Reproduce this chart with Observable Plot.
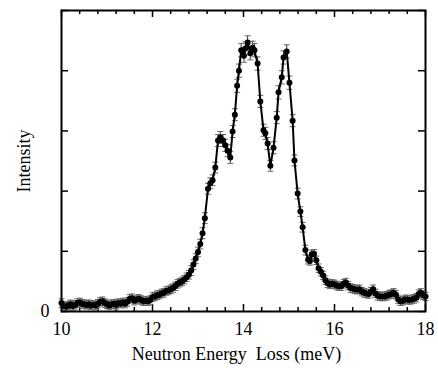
<!DOCTYPE html>
<html><head><meta charset="utf-8">
<script src="https://cdn.jsdelivr.net/npm/d3@7"></script>
<script src="https://cdn.jsdelivr.net/npm/@observablehq/plot@0.6"></script>
<style>body{margin:0;background:#fff}</style>
</head><body><div id="chart"></div>
<script>
const energy = [
  10.00,10.05,10.10,10.15,10.20,10.25,10.30,10.35,10.40,10.45,
  10.50,10.55,10.60,10.65,10.70,10.75,10.80,10.85,10.90,10.95,
  11.00,11.05,11.10,11.15,11.20,11.25,11.30,11.35,11.40,11.45,
  11.50,11.55,11.60,11.65,11.70,11.75,11.80,11.85,11.90,11.95,
  12.00,12.05,12.10,12.15,12.20,12.25,12.30,12.35,12.40,12.45,
  12.50,12.55,12.60,12.65,12.70,12.75,12.80,12.85,12.90,12.95,
  13.00,13.05,13.10,13.15,
  13.22,13.27,13.32,13.38,13.44,13.49,13.55,13.60,13.65,13.71,
  13.76,13.81,13.86,13.90,13.95,14.01,14.04,14.09,14.15,14.20,
  14.24,14.31,14.37,14.44,14.48,14.53,14.59,14.66,14.73,14.77,
  14.84,14.88,14.95,15.01,15.08,15.12,15.19,15.25,15.30,15.36,
  15.42,15.46,15.50,15.55,15.60,15.65,15.70,15.75,
  15.80,15.85,15.90,15.95,16.00,16.05,16.10,16.15,16.20,16.25,
  16.30,16.35,16.40,16.45,16.50,16.55,16.60,16.65,16.70,16.75,
  16.80,16.85,16.90,16.95,17.00,17.05,17.10,17.15,17.20,17.25,
  17.30,17.35,17.40,17.45,17.50,17.55,17.60,17.65,17.70,17.75,
  17.80,17.85,17.90,17.95,18.00
];
const intensity = [
  14,9,8,10,12,9,11,14,15,13,
  12,11,12,10,11,10,13,16,17,14,
  12,10,12,13,11,14,13,15,13,16,
  21,22,18,20,21,19,17,18,17,19,
  24,25,27,28,30,31,34,35,37,39,
  42,46,48,50,53,57,61,68,78,88,
  99,112,130,155,
  204,213,218,239,284,289,284,276,267,256,
  299,327,375,400,434,425,437,447,429,438,
  434,412,349,301,296,279,242,272,322,364,
  389,422,432,380,317,251,196,166,140,102,
  86,84,95,96,85,72,66,60,
  52,47,45,46,45,43,42,42,46,48,
  43,39,38,37,36,37,33,31,30,29,
  33,37,30,26,25,25,25,26,28,29,
  31,28,20,17,18,20,20,19,20,21,
  23,29,31,27,25
];
const errorBar = [
  7,7,7,7,7,7,7,7,7,7,
  7,7,7,7,7,7,7,7,7,7,
  7,7,7,7,7,7,7,7,7,7,
  7,7,7,7,7,7,7,7,7,7,
  7,7,7,7,7,7,7,7,7,7,
  7,7,7,7,7,7,7,8,8,8,
  8,8,9,9,
  9,9,9,9,10,10,10,10,10,10,
  10,10,11,11,11,11,11,11,11,11,
  11,11,10,10,10,10,9,10,10,11,
  11,11,11,11,10,9,9,8,8,8,
  7,7,7,7,7,7,7,7,
  7,7,7,7,7,7,7,7,7,7,
  7,7,7,7,7,7,7,7,7,7,
  7,7,7,7,7,7,7,7,7,7,
  7,7,7,7,7,7,7,7,7,7,
  7,7,7,7,7
];
const majorXTicks = [10,12,14,16,18];
const minorXTicks = [10.4,10.8,11.2,11.6,12.4,12.8,13.2,13.6,14.4,14.8,15.2,15.6,16.4,16.8,17.2,17.6];
const yTicks = [0,100,200,300,400,500];
const yTickLabelValues = [0];
const xLabel = "Neutron Energy\u00a0 Loss (meV)";
const yLabel = "Intensity";

const points = energy.map((e, i) => ({energy: e, intensity: intensity[i], err: errorBar[i]}));

const W = 438, H = 368, mL = 61, mR = 13, mT = 10, mB = 57;
const innerW = W - mL - mR, innerH = H - mT - mB;

const capSymbol = {
  draw(ctx, size) {
    const r = Math.sqrt(size / Math.PI);
    ctx.moveTo(-r, 0);
    ctx.lineTo(r, 0);
  }
};

const font = "'Liberation Serif', 'Times New Roman', serif";
const chart = Plot.plot({
  width: W, height: H,
  marginLeft: mL, marginRight: mR, marginTop: mT, marginBottom: mB,
  style: {fontFamily: font, fontSize: "17px", color: "black", background: "white"},
  x: {domain: [10, 18]},
  y: {domain: [0, 500]},
  marks: [
    Plot.tickX(majorXTicks, {x: d => d, insetTop: innerH - 7, strokeWidth: 1.5, stroke: "black"}),
    Plot.tickX(majorXTicks, {x: d => d, insetBottom: innerH - 7, strokeWidth: 1.5, stroke: "black"}),
    Plot.tickX(minorXTicks, {x: d => d, insetTop: innerH - 4, strokeWidth: 1.5, stroke: "black"}),
    Plot.tickX(minorXTicks, {x: d => d, insetBottom: innerH - 4, strokeWidth: 1.5, stroke: "black"}),
    Plot.tickY(yTicks, {y: d => d, insetRight: innerW - 7, strokeWidth: 1.5, stroke: "black"}),
    Plot.tickY(yTicks, {y: d => d, insetLeft: innerW - 7, strokeWidth: 1.5, stroke: "black"}),
    Plot.ruleX(points, {x: "energy", y1: d => d.intensity - d.err, y2: d => d.intensity + d.err, stroke: "#333", strokeWidth: 1}),
    Plot.dot(points, {x: "energy", y: d => d.intensity - d.err, symbol: capSymbol, r: 3, fill: "none", stroke: "#666", strokeWidth: 1}),
    Plot.dot(points, {x: "energy", y: d => d.intensity + d.err, symbol: capSymbol, r: 3, fill: "none", stroke: "#666", strokeWidth: 1}),
    Plot.line(points, {x: "energy", y: "intensity", stroke: "black", strokeWidth: 2}),
    Plot.dot(points, {x: "energy", y: "intensity", r: 3, fill: "black", stroke: "none"}),
    Plot.frame({stroke: "black", strokeWidth: 2}),
    Plot.axisX({ticks: majorXTicks, tickSize: 0, tickPadding: 11, fontSize: 18, tickFormat: d => String(d), label: null}),
    Plot.text([xLabel], {text: d => d, frameAnchor: "bottom", lineAnchor: "bottom", dy: 48, dx: -7, fontSize: 18, fill: "black"}),
    Plot.axisY({ticks: yTickLabelValues, tickSize: 0, tickPadding: 12, fontSize: 18, tickFormat: d => String(d), label: yLabel, labelAnchor: "center", labelOffset: 44, labelArrow: "none"})
  ]
});
document.getElementById("chart").appendChild(chart);
</script>
</body></html>
